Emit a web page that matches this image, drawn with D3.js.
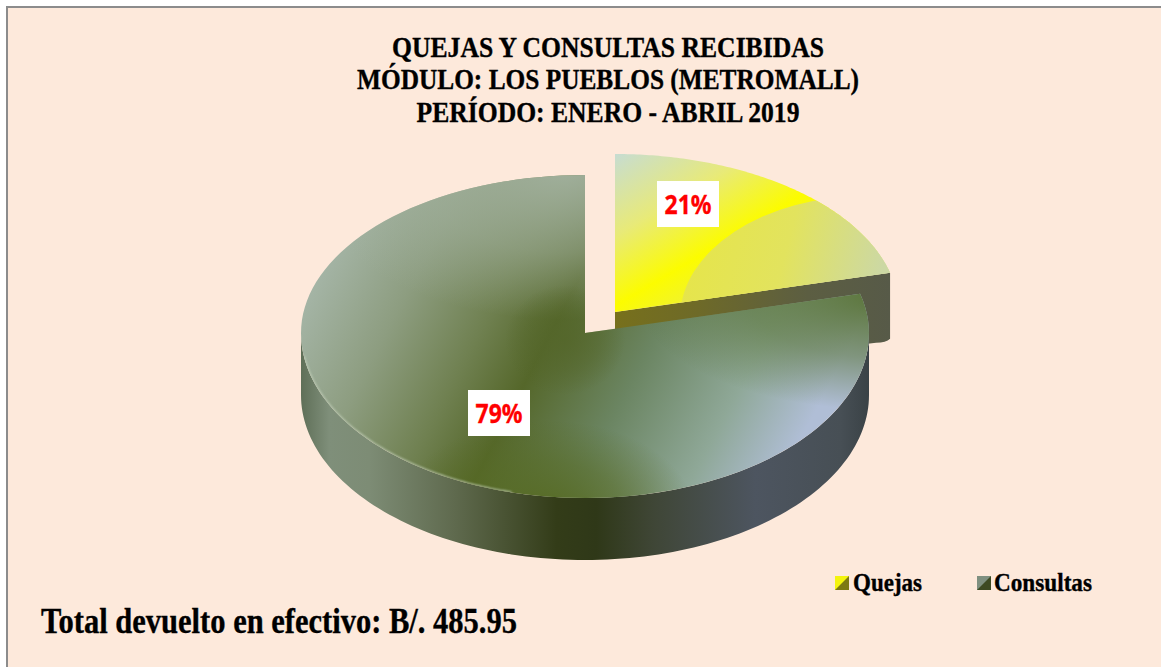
<!DOCTYPE html>
<html>
<head>
<meta charset="utf-8">
<script src="https://d3js.org/d3.v7.min.js"></script>
<style>
  html, body { margin: 0; padding: 0; background: #fff; }
  svg { display: block; }
  text { font-family: "Liberation Serif", serif; font-weight: bold; fill: #000; stroke: #000; stroke-width: 0.35px; }
</style>
</head>
<body>
<script>
  // datos
  const categories = ['Quejas', 'Consultas'];
  const shares = [21, 79];
  const titleLines = ['QUEJAS Y CONSULTAS RECIBIDAS', 'MÓDULO: LOS PUEBLOS (METROMALL)', 'PERÍODO: ENERO - ABRIL 2019'];
  const footnote = 'Total devuelto en efectivo: B/. 485.95';

  const width = 1161, height = 667;
  const cx = 585, cy = 333, rx = 284, ryBack = 158, ryFront = 165, depth = 62;
  const explode = { x: 30, y: -21 };

  const svg = d3.select('body').append('svg').attr('width', width).attr('height', height);
  const defs = svg.append('defs');

  svg.append('rect').attr('x', 7).attr('y', 7).attr('width', width).attr('height', height)
    .attr('fill', '#fde9db').attr('stroke', '#8c8c8c').attr('stroke-width', 2);

  const linear = (id, p, stops) => {
    const g = defs.append('linearGradient').attr('id', id).attr('gradientUnits', 'userSpaceOnUse')
      .attr('x1', p[0]).attr('y1', p[1]).attr('x2', p[2]).attr('y2', p[3]);
    stops.forEach(s => g.append('stop').attr('offset', s[0]).attr('stop-color', s[1]));
  };

  let glowCount = 0;
  const glow = (parent, x, y, rX, rY, color, alpha) => {
    const id = 'glow' + (glowCount++);
    const g = defs.append('radialGradient').attr('id', id);
    g.append('stop').attr('offset', 0).attr('stop-color', color).attr('stop-opacity', alpha);
    g.append('stop').attr('offset', 0.55).attr('stop-color', color).attr('stop-opacity', alpha * 0.55);
    g.append('stop').attr('offset', 1).attr('stop-color', color).attr('stop-opacity', 0);
    parent.append('ellipse').attr('cx', x).attr('cy', y).attr('rx', rX).attr('ry', rY).attr('fill', `url(#${id})`);
  };

  // el dibujo no es una elipse perfecta: la mitad de adelante es un poco mas alta
  const rim = a => [cx + rx * Math.sin(a), cy - Math.cos(a) * (Math.cos(a) > 0 ? ryBack : ryFront)];
  const sweep = (a0, a1) => d3.range(0, 121).map(i => rim(a0 + (a1 - a0) * i / 120));
  const line = d3.line();

  const arcs = d3.pie().sort(null)(shares);
  const quejas = arcs[0], consultas = arcs[1];

  const slicePath = d => line([[cx, cy]].concat(sweep(d.startAngle, d.endAngle))) + 'Z';
  const deg = Math.PI / 180;

  linear('wallMain', [301, 0, 869, 0], [
    [0, '#5f6f58'], [0.05, '#7f8f7a'], [0.12, '#7d8c75'], [0.27, '#5f6a4e'],
    [0.45, '#333c18'], [0.52, '#2f3818'], [0.62, '#3f4636'], [0.8, '#4d5560'], [0.95, '#474f55'], [1, '#3a4246']
  ]);
  linear('wallCut', [615, 0, 890, 0], [[0, '#77701c'], [0.3, '#6e6a28'], [0.7, '#5c5e42'], [1, '#575a48']]);
  linear('faceMain', [330, 215, 793, 455], [
    [0, '#a9b9ad'], [0.2, '#8d9d80'], [0.36, '#6f8050'], [0.48, '#55672a'], [0.66, '#6b8562'], [0.85, '#8fa898'], [1, '#b0bed6']
  ]);
  linear('faceQuejas', [632, 145, 755, 352], [
    [0, '#c6dcd4'], [0.3, '#e8ea78'], [0.55, '#fcfc00'], [1, '#d8e090']
  ]);
  linear('bevelQuejas', [690, 230, 880, 280], [[0, '#e6e54a'], [0.5, '#e2e35e'], [1, '#ccd8a4']]);

  defs.append('clipPath').attr('id', 'clipMain').append('path').attr('d', slicePath(consultas));
  defs.append('clipPath').attr('id', 'clipQuejas').append('path').attr('d', slicePath(quejas))
    .attr('transform', `translate(${explode.x},${explode.y})`);
  defs.append('filter').attr('id', 'soft').append('feGaussianBlur').attr('stdDeviation', 1.2);

  // porcion separada: solo se ve la pared del corte
  const quejasG = svg.append('g');
  const tip = rim(quejas.endAngle);
  const cutWall = d3.path();
  cutWall.moveTo(cx + explode.x, cy + explode.y);
  cutWall.lineTo(tip[0] + explode.x, tip[1] + explode.y);
  cutWall.lineTo(tip[0] + explode.x, tip[1] + explode.y + depth + 4);
  cutWall.quadraticCurveTo(tip[0] + explode.x - 4, tip[1] + explode.y + depth + 8, tip[0] + explode.x - 14, tip[1] + explode.y + depth + 8);
  cutWall.lineTo(cx + explode.x, cy + explode.y + depth);
  cutWall.closePath();
  quejasG.append('path').attr('d', cutWall.toString()).attr('fill', 'url(#wallCut)');
  quejasG.append('path').attr('d', slicePath(quejas))
    .attr('transform', `translate(${explode.x},${explode.y})`)
    .attr('fill', 'url(#faceQuejas)');
  quejasG.append('g').attr('clip-path', 'url(#clipQuejas)')
    .append('ellipse').attr('cx', 866).attr('cy', 318).attr('rx', 186).attr('ry', 122)
    .attr('fill', 'url(#bevelQuejas)');

  // porcion grande: pared lateral y cara superior
  const front = sweep(90 * deg, 270 * deg);
  const wallArea = d3.area().x(d => d[0]).y0(d => d[1]).y1(d => d[1] + depth);
  const mainG = svg.append('g');
  mainG.append('path').attr('d', wallArea(front)).attr('fill', 'url(#wallMain)');
  mainG.append('path').attr('d', slicePath(consultas)).attr('fill', 'url(#faceMain)');

  const shade = mainG.append('g').attr('clip-path', 'url(#clipMain)');
  glow(shade, 565, 170, 260, 150, '#a3b2a0', 0.95);
  glow(shade, 885, 295, 250, 115, '#55702f', 0.95);
  glow(shade, 545, 515, 150, 95, '#566a22', 1);
  glow(shade, 565, 340, 60, 55, '#54662a', 0.8);

  mainG.append('path').attr('d', line(sweep(195 * deg, 262 * deg)))
    .attr('fill', 'none').attr('stroke', '#c8d6c0').attr('stroke-width', 1.4).attr('filter', 'url(#soft)')
    .attr('clip-path', 'url(#clipMain)');

  // etiquetas de porcentaje
  const labelAt = { Quejas: [688, 204], Consultas: [499, 413] };
  categories.forEach((c, i) => {
    const p = labelAt[c];
    svg.append('rect').attr('x', p[0] - 31).attr('y', p[1] - 23).attr('width', 62).attr('height', 46).attr('fill', '#fff');
    svg.append('text').attr('x', p[0]).attr('y', p[1] + 10).attr('text-anchor', 'middle')
      .style('font-family', '"Noto Sans", sans-serif').style('font-size', '27px').style('fill', '#ff0000').style('stroke', '#ff0000')
      .attr('textLength', 47).attr('lengthAdjust', 'spacingAndGlyphs')
      .text(shares[i] + '%');
  });

  // titulo
  const titleBase = [57, 89, 122];
  const titleWidth = [432, 502, 383];
  titleLines.forEach((t, i) => {
    svg.append('text').attr('x', 608).attr('y', titleBase[i]).attr('text-anchor', 'middle')
      .style('font-size', '29px').attr('textLength', titleWidth[i]).attr('lengthAdjust', 'spacingAndGlyphs').text(t);
  });

  // leyenda
  const legendX = [835, 977], legendText = [853, 994], legendWidth = [69, 98];
  const swatch = [['#f4f40e', '#7d7a12'], ['#7f9080', '#3d4a22']];
  categories.forEach((c, i) => {
    const x = legendX[i], y = 576, s = 14;
    const g = svg.append('g');
    g.append('rect').attr('x', x).attr('y', y).attr('width', s).attr('height', s).attr('fill', swatch[i][1]);
    g.append('path').attr('d', line([[x, y + s], [x + s, y], [x, y]]) + 'Z').attr('fill', swatch[i][0]);
    svg.append('text').attr('x', legendText[i]).attr('y', 591)
      .style('font-size', '25px').attr('textLength', legendWidth[i]).attr('lengthAdjust', 'spacingAndGlyphs').text(c);
  });

  svg.append('text').attr('x', 41).attr('y', 633)
    .style('font-size', '35px').attr('textLength', 476).attr('lengthAdjust', 'spacingAndGlyphs').text(footnote);
</script>
</body>
</html>
